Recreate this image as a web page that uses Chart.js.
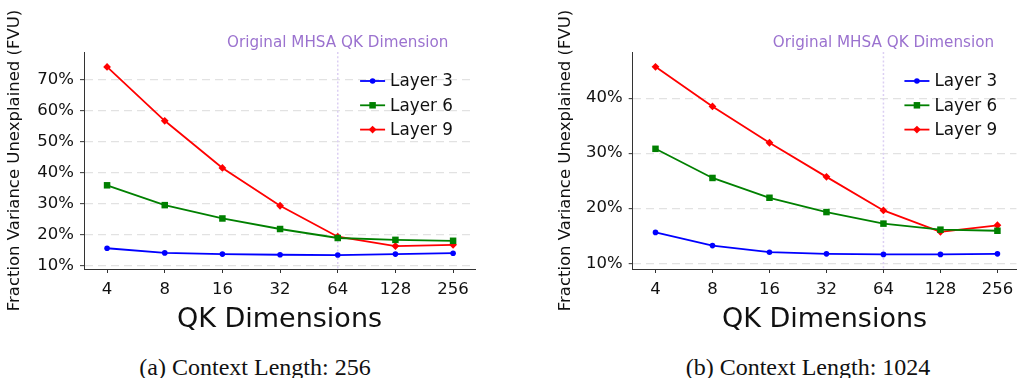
<!DOCTYPE html>
<html>
<head>
<meta charset="utf-8">
<script src="https://cdn.jsdelivr.net/npm/chart.js@4.4.1/dist/chart.umd.min.js"></script>
<style>
  html, body { margin: 0; padding: 0; background: #fff; }
  #page { position: relative; width: 1021px; height: 378px; overflow: hidden; }
  canvas { position: absolute; top: 0; }
  .caption {
    position: absolute; top: 367px; transform: translate(-50%, -50%);
    font-family: "Liberation Serif", "Times New Roman", serif; font-size: 24px; color: #111;
    white-space: nowrap;
  }
</style>
</head>
<body>
<div id="page">
  <canvas id="chartA" width="500" height="345" style="left:0px"></canvas>
  <canvas id="chartB" width="470" height="345" style="left:551px"></canvas>
  <div class="caption" style="left:255px">(a) Context Length: 256</div>
  <div class="caption" style="left:808px">(b) Context Length: 1024</div>
</div>
<script>
const qkDims = ["4", "8", "16", "32", "64", "128", "256"];
const layerNames = ["Layer 3", "Layer 6", "Layer 9"];
const layerColors = ["#0000ff", "#008000", "#ff0000"];
const layerMarkers = ["circle", "rect", "rectRot"];
const markerSizes = [2.8, 4.6, 3.9];

// context length 256 (FVU in %)
const ctx256Layer3 = [15.7, 14.2, 13.8, 13.6, 13.5, 13.8, 14.1];
const ctx256Layer6 = [36.0, 29.6, 25.3, 21.9, 19.0, 18.4, 18.1];
const ctx256Layer9 = [74.2, 56.8, 41.6, 29.4, 19.4, 16.4, 16.8];
const yTicks256 = [10, 20, 30, 40, 50, 60, 70];

// context length 1024 (FVU in %)
const ctx1024Layer3 = [15.6, 13.2, 12.0, 11.7, 11.6, 11.6, 11.7];
const ctx1024Layer6 = [30.8, 25.5, 21.9, 19.3, 17.2, 16.1, 15.9];
const ctx1024Layer9 = [45.7, 38.5, 31.9, 25.7, 19.6, 15.7, 16.9];
const yTicks1024 = [10, 20, 30, 40];

const originalDim = "64";
const annotationText = "Original MHSA QK Dimension";

function drawMarker(ctx, style, r, x, y) {
  ctx.beginPath();
  if (style === "circle") {
    ctx.arc(x, y, r, 0, Math.PI * 2);
  } else if (style === "rect") {
    const s = r * Math.SQRT1_2;
    ctx.rect(x - s, y - s, 2 * s, 2 * s);
  } else {
    ctx.moveTo(x, y - r); ctx.lineTo(x + r, y); ctx.lineTo(x, y + r); ctx.lineTo(x - r, y);
    ctx.closePath();
  }
  ctx.fill();
}

// vertical dotted line, its label and the legend inside the axes
const decorPlugin = {
  id: "decor",
  beforeDatasetsDraw(chart) {
    const { ctx, chartArea, scales } = chart;
    const x = scales.x.getPixelForValue(qkDims.indexOf(originalDim));
    ctx.save();
    ctx.strokeStyle = "#dccff3";
    ctx.lineWidth = 1.5;
    ctx.setLineDash([2, 2.2]);
    ctx.beginPath();
    ctx.moveTo(x, chartArea.top);
    ctx.lineTo(x, chartArea.bottom);
    ctx.stroke();
    ctx.restore();
  },
  afterDraw(chart) {
    const { ctx, chartArea, scales } = chart;
    ctx.save();
    const x = scales.x.getPixelForValue(qkDims.indexOf(originalDim));
    ctx.font = "15.2px 'DejaVu Sans'";
    ctx.fillStyle = "#9b72cf";
    ctx.textAlign = "center";
    ctx.textBaseline = "middle";
    ctx.fillText(annotationText, x, chartArea.top - 8.5);

    // legend
    const x0 = scales.x.getPixelForValue(qkDims.length - 1) - 93;
    ctx.font = "16.8px 'DejaVu Sans'";
    ctx.textAlign = "left";
    chart.data.datasets.forEach((ds, i) => {
      const y = chartArea.top + 29 + i * 24.3;
      ctx.strokeStyle = ds.borderColor;
      ctx.fillStyle = ds.borderColor;
      ctx.lineWidth = 1.8;
      ctx.beginPath();
      ctx.moveTo(x0, y);
      ctx.lineTo(x0 + 25, y);
      ctx.stroke();
      drawMarker(ctx, ds.pointStyle, ds.pointRadius, x0 + 12.5, y);
      ctx.fillStyle = "#111";
      ctx.fillText(ds.label, x0 + 30, y + 1);
    });
    ctx.restore();
  }
};

function makeChart(id, series, yTicks, cfg) {
  const datasets = series.map((vals, i) => ({
    label: layerNames[i],
    data: vals.map((v, j) => ({ x: j, y: v })),
    borderColor: layerColors[i],
    backgroundColor: layerColors[i],
    borderWidth: 1.8,
    pointStyle: layerMarkers[i],
    pointRadius: markerSizes[i],
    pointBorderWidth: 0,
    tension: 0,
    clip: false
  }));

  return new Chart(document.getElementById(id), {
    type: "line",
    data: { datasets },
    plugins: [decorPlugin],
    options: {
      responsive: false,
      devicePixelRatio: 1,
      animation: false,
      layout: { padding: { top: 52, bottom: 0, left: 0, right: cfg.padRight } },
      plugins: { legend: { display: false }, tooltip: { enabled: false } },
      scales: {
        x: {
          type: "linear",
          min: cfg.xMin,
          max: cfg.xMax,
          afterBuildTicks: (scale) => { scale.ticks = qkDims.map((_, i) => ({ value: i })); },
          afterFit: (scale) => { scale.height = 76; },
          ticks: {
            callback: (v) => qkDims[v],
            font: { family: "DejaVu Sans", size: 16.5 },
            color: "#111",
            padding: 6.5,
            maxRotation: 0,
            autoSkip: false
          },
          grid: { drawOnChartArea: false, tickLength: 4, tickColor: "#333", tickWidth: 1 },
          border: { color: "#333", width: 1 },
          title: {
            display: true,
            text: "QK Dimensions",
            font: { family: "DejaVu Sans", size: 27 },
            color: "#111",
            padding: { top: 0, bottom: 9 }
          }
        },
        y: {
          type: "linear",
          min: cfg.yMin,
          max: cfg.yMax,
          afterBuildTicks: (scale) => { scale.ticks = yTicks.map((v) => ({ value: v })); },
          afterFit: (scale) => { scale.width = cfg.plotLeft; },
          ticks: {
            callback: (v) => v + "%",
            font: { family: "DejaVu Sans", size: 16.5 },
            color: "#111",
            padding: 6
          },
          grid: { color: "#e2e2e2", lineWidth: 1.3, tickLength: 4, tickColor: "#333", tickWidth: 1, tickBorderDash: [] },
          border: { color: "#333", width: 1, dash: [8, 5] },
          title: {
            display: true,
            text: "Fraction Variance Unexplained (FVU)",
            font: { family: "DejaVu Sans", size: 16.5 },
            color: "#111",
            padding: { top: 5, bottom: 0 }
          }
        }
      }
    }
  });
}

makeChart("chartA", [ctx256Layer3, ctx256Layer6, ctx256Layer9], yTicks256,
  { xMin: -0.4, xMax: 6.38, yMin: 9.0, yMax: 79.0, plotLeft: 84, padRight: 25 });
makeChart("chartB", [ctx1024Layer3, ctx1024Layer6, ctx1024Layer9], yTicks1024,
  { xMin: -0.4, xMax: 6.333, yMin: 8.95, yMax: 48.4, plotLeft: 81.7, padRight: 0 });
</script>
</body>
</html>
